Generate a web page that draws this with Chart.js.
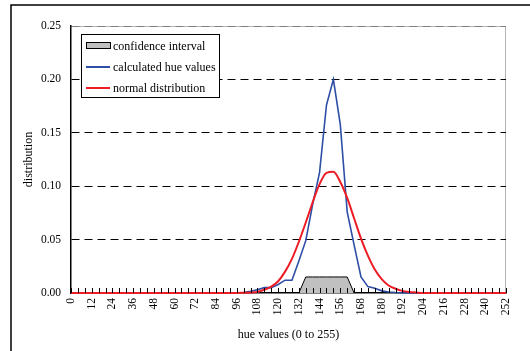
<!DOCTYPE html>
<html>
<head>
<meta charset="utf-8">
<script src="https://cdn.jsdelivr.net/npm/chart.js"></script>
<style>
  html, body { margin: 0; padding: 0; background: #fff; }
  canvas { display: block; }
</style>
</head>
<body>
<canvas id="hueChart" width="530" height="351"></canvas>
<script>
// hue values, one point every 4
const hueLabels = [
  0, 4, 8, 12, 16, 20, 24, 28, 32, 36, 40, 44, 48, 52, 56, 60,
  64, 68, 72, 76, 80, 84, 88, 92, 96, 100, 104, 108, 112, 116, 120, 124,
  128, 132, 136, 140, 144, 148, 152, 156, 160, 164, 168, 172, 176, 180, 184, 188,
  192, 196, 200, 204, 208, 212, 216, 220, 224, 228, 232, 236, 240, 244, 248, 252
];

const confidenceInterval = [
  null, null, null, null, null, null, null, null, null, null, null, null, null, null, null, null,
  null, null, null, null, null, null, null, null, null, null, null, null, null, null, null, null,
  null, 0, 0.015, 0.015, 0.015, 0.015, 0.015, 0.015, 0.015, 0, null, null, null, null, null, null,
  null, null, null, null, null, null, null, null, null, null, null, null, null, null, null, null
];

const calculatedHue = [
  0, 0, 0, 0, 0, 0, 0.0003, 0.0003, 0, 0, 0, 0, 0.0003, 0, 0, 0,
  0, 0, 0, 0, 0, 0, 0, 0, 0.0003, 0.0005, 0.0015, 0.003, 0.005, 0.005, 0.008, 0.012,
  0.012, 0.03, 0.049, 0.083, 0.113, 0.176, 0.2, 0.158, 0.076, 0.045, 0.015, 0.006, 0.0045, 0.002, 0.001, 0.0005,
  0.0002, 0, 0, 0, 0, 0, 0, 0, 0, 0, 0, 0, 0, 0, 0, 0
];

const normalDist = [
  0, 0, 0, 0, 0, 0, 0, 0, 0, 0, 0, 0, 0, 0, 0, 0,
  0, 0, 0, 0, 0, 0, 0, 0, 0, 0.0002, 0.0005, 0.001, 0.003, 0.006, 0.011, 0.02,
  0.032, 0.048, 0.066, 0.085, 0.102, 0.1125, 0.1135, 0.104, 0.089, 0.07, 0.051, 0.035, 0.022, 0.013, 0.007, 0.004,
  0.002, 0.001, 0.0005, 0, 0, 0, 0, 0, 0, 0, 0, 0, 0, 0, 0, 0
];

const yTicks = [0, 0.05, 0.1, 0.15, 0.2, 0.25];

const serif = "'Liberation Serif', 'Times New Roman', serif";

// outer frame + grey plot border
const framePlugin = {
  id: "frame",
  beforeDraw(chart) {
    const ctx = chart.ctx;
    const a = chart.chartArea;
    ctx.save();
    ctx.strokeStyle = "#000";
    ctx.lineWidth = 1.5;
    ctx.beginPath();
    ctx.moveTo(11, 351);
    ctx.lineTo(11, 5);
    ctx.lineTo(530, 5);
    ctx.stroke();
    ctx.strokeStyle = "#b4b4b4";
    ctx.lineWidth = 1;
    ctx.beginPath();
    ctx.moveTo(a.left, a.top + 0.5);
    ctx.lineTo(a.right - 0.5, a.top + 0.5);
    ctx.lineTo(a.right - 0.5, a.bottom);
    ctx.stroke();
    ctx.restore();
  },
};

// inward tick marks on the x axis
const tickPlugin = {
  id: "inTicks",
  afterDatasetsDraw(chart) {
    const ctx = chart.ctx;
    const x = chart.scales.x;
    const bottom = chart.chartArea.bottom;
    ctx.save();
    ctx.strokeStyle = "#000";
    ctx.lineWidth = 1;
    ctx.beginPath();
    hueLabels.forEach((v, i) => {
      const px = Math.round(x.getPixelForValue(i)) + 0.5;
      ctx.moveTo(px, bottom);
      ctx.lineTo(px, bottom - 5);
    });
    ctx.stroke();
    ctx.restore();
  },
};

// legend box inside the plot
const legendPlugin = {
  id: "boxLegend",
  afterDraw(chart) {
    const ctx = chart.ctx;
    const bx = 81, by = 34, bw = 138, bh = 63;
    ctx.save();
    ctx.fillStyle = "#fff";
    ctx.fillRect(bx, by, bw, bh);
    ctx.strokeStyle = "#000";
    ctx.lineWidth = 1;
    ctx.strokeRect(bx + 0.5, by + 0.5, bw, bh);
    ctx.font = "12px " + serif;
    ctx.textBaseline = "middle";
    ctx.textAlign = "left";
    const order = [0, 1, 2];
    order.forEach((di, row) => {
      const ds = chart.data.datasets[di];
      const cy = 46 + row * 21;
      if (ds.fill) {
        ctx.fillStyle = ds.backgroundColor;
        ctx.fillRect(86, cy - 3, 24, 6);
        ctx.strokeStyle = "#000";
        ctx.strokeRect(86.5, cy - 3.5, 24, 6);
      } else {
        ctx.strokeStyle = ds.borderColor;
        ctx.lineWidth = 2;
        ctx.beginPath();
        ctx.moveTo(86, cy);
        ctx.lineTo(110, cy);
        ctx.stroke();
        ctx.lineWidth = 1;
      }
      ctx.fillStyle = "#000";
      ctx.fillText(ds.label, 113, cy + 1);
    });
    ctx.restore();
  },
};

const ctx = document.getElementById("hueChart");
new Chart(ctx, {
  type: "line",
  data: {
    labels: hueLabels,
    datasets: [
      {
        label: "confidence interval",
        data: confidenceInterval,
        fill: "origin",
        backgroundColor: "#c0c0c0",
        borderColor: "#000",
        borderWidth: 1,
        pointRadius: 0,
        tension: 0,
        order: 3,
      },
      {
        label: "calculated hue values",
        data: calculatedHue,
        fill: false,
        borderColor: "#2e4ea6",
        borderWidth: 1.6,
        pointRadius: 0,
        tension: 0,
        order: 2,
      },
      {
        label: "normal distribution",
        data: normalDist,
        fill: false,
        borderColor: "#ee1d25",
        borderWidth: 2,
        pointRadius: 0,
        cubicInterpolationMode: "monotone",
        tension: 0.4,
        order: 1,
      },
    ],
  },
  options: {
    responsive: false,
    animation: false,
    clip: false,
    layout: {
      padding: { left: 16, right: 24, top: 26, bottom: 6 },
    },
    plugins: {
      legend: { display: false },
      tooltip: { enabled: false },
    },
    scales: {
      x: {
        type: "category",
        offset: false,
        grid: { display: false, drawTicks: false },
        border: { display: true, color: "#000", width: 1.5 },
        ticks: {
          autoSkip: false,
          minRotation: 90,
          maxRotation: 90,
          padding: 5,
          color: "#000",
          font: { family: serif, size: 11.5 },
          callback: function (val, i) {
            const h = hueLabels[i];
            return h % 12 === 0 ? String(h) : "";
          },
        },
        title: {
          display: true,
          text: "hue values (0 to 255)",
          color: "#000",
          font: { family: serif, size: 12 },
          padding: { top: 0, bottom: 3 },
        },
        afterFit: function (scale) {
          scale.height = 52;
        },
      },
      y: {
        min: 0,
        max: 0.25,
        afterBuildTicks: function (scale) {
          scale.ticks = yTicks.map((v) => ({ value: v }));
        },
        grid: {
          drawTicks: false,
          lineWidth: 1,
          color: function (c) {
            if (c.tick.value === 0) return "rgba(0,0,0,0)";
            if (c.tick.value >= 0.25) return "#808080";
            return "#000";
          },
        },
        border: { display: true, color: "#000", width: 1.5, dash: [8, 5] },
        ticks: {
          padding: 10,
          color: "#000",
          font: { family: serif, size: 11.5 },
          callback: function (v) {
            return Number(v).toFixed(2);
          },
        },
        title: {
          display: true,
          text: "distribution",
          color: "#000",
          font: { family: serif, size: 12 },
          padding: { top: 6, bottom: 0 },
        },
        afterFit: function (scale) {
          scale.width = 55;
        },
      },
    },
  },
  plugins: [framePlugin, tickPlugin, legendPlugin],
});
</script>
</body>
</html>
